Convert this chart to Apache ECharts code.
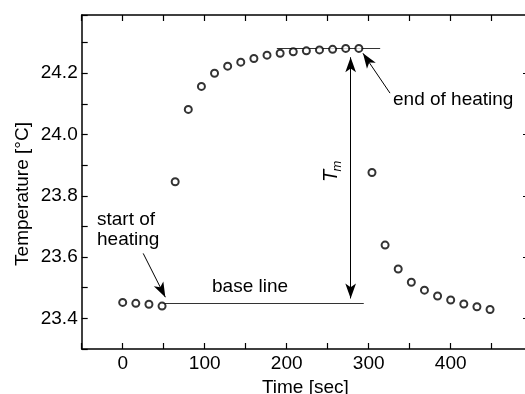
<!DOCTYPE html>
<html>
<head>
<meta charset="utf-8">
<script src="https://cdn.jsdelivr.net/npm/echarts@6/dist/echarts.min.js"></script>
<style>
  html, body { margin: 0; padding: 0; background: #fff; }
  #chart { width: 525px; height: 394px; }
</style>
</head>
<body>
<div id="chart"></div>
<script>
// time [sec] and temperature [°C]
const times = [0, 16, 32, 48, 64, 80, 96, 112, 128, 144, 160, 176, 192, 208, 224, 240, 256, 272, 288,
  304, 320, 336, 352, 368, 384, 400, 416, 432, 448];
const temps = [23.452, 23.449, 23.446, 23.440, 23.846, 24.082, 24.157, 24.200, 24.223, 24.236, 24.248,
  24.259, 24.265, 24.270, 24.273, 24.276, 24.278, 24.281, 24.281,
  23.876, 23.639, 23.561, 23.518, 23.492, 23.473, 23.460, 23.447, 23.438, 23.429];
const majorY = [23.4, 23.6, 23.8, 24.0, 24.2];

// annotation lines in data units
const baseLine = [[48, 23.448], [294, 23.448]];
const topLine = [[188, 24.283], [314, 24.283]];
const tmArrow = [[278, 23.465], [278, 24.252]];
const endArrow = [[326, 24.135], [293, 24.265]];
const startArrow = [[25, 23.612], [52, 23.469]];

const FONT = "Liberation Sans";
const chart = echarts.init(document.getElementById("chart"));

const pts = times.map((t, i) => [t, temps[i]]);
const seg = (p, s0, s1, color) => [
  { coord: p[0], symbol: s0, lineStyle: { color: color } },
  { coord: p[1], symbol: s1 },
];
const frameLine = { show: true, onZero: false, lineStyle: { color: "#000", width: 1.5 } };
const frameTick = { inside: true, length: 6, lineStyle: { color: "#000", width: 1.2 } };

chart.setOption({
  animation: false,
  grid: { left: 81.7, width: 447.3, top: 15, bottom: 45, outerBoundsMode: "none", containLabel: false },
  xAxis: [
    {
      type: "value", min: -50, max: 495.5, interval: 50,
      name: "Time [sec]", nameLocation: "middle", nameGap: 26,
      nameTextStyle: { fontFamily: FONT, fontSize: 19, color: "#000" },
      axisLine: frameLine,
      axisTick: frameTick,
      axisLabel: {
        fontFamily: FONT, fontSize: 19, color: "#000", margin: 5,
        formatter: (v) => (v >= 0 && v % 100 === 0 ? String(v) : ""),
      },
      splitLine: { show: false },
    },
    {
      type: "value", position: "top", min: -50, max: 495.5, interval: 50,
      axisLine: frameLine,
      axisTick: frameTick,
      axisLabel: { show: false },
      splitLine: { show: false },
    },
  ],
  yAxis: [
    {
      type: "value", min: 23.3, max: 24.39, interval: 0.1,
      axisLine: frameLine,
      axisTick: frameTick,
      axisLabel: {
        fontFamily: FONT, fontSize: 19, color: "#000", margin: 4,
        formatter: (v) => {
          const k = Math.round(v * 10);
          return k % 2 === 0 && k <= 242 ? (k / 10).toFixed(1) : "";
        },
      },
      splitLine: { show: false },
    },
    {
      type: "value", position: "right", min: 23.3, max: 24.39, interval: 0.1,
      axisLine: frameLine,
      axisTick: Object.assign({}, frameTick, { customValues: majorY }),
      axisLabel: { show: false },
      splitLine: { show: false },
    },
  ],
  series: [
    {
      type: "scatter",
      data: pts,
      symbol: "emptyCircle",
      symbolSize: 7,
      itemStyle: { color: "#000", borderColor: "#000", borderWidth: 1 },
      silent: true,
      z: 5,
      markLine: {
        silent: true,
        animation: false,
        symbolSize: [8, 15],
        label: { show: false },
        lineStyle: { type: "solid", width: 1, color: "#000" },
        emphasis: { disabled: true },
        data: [
          seg(baseLine, "none", "none", "#333"),
          seg(topLine, "none", "none", "#333"),
          seg(tmArrow, "arrow", "arrow", "#000"),
          seg(endArrow, "none", "arrow", "#000"),
          seg(startArrow, "none", "arrow", "#000"),
        ],
      },
    },
  ],
  graphic: [
    {
      type: "text", x: 23, y: 194, rotation: Math.PI / 2,
      style: { text: "Temperature [°C]", font: `19px "${FONT}"`, fill: "#000", align: "center", verticalAlign: "middle" },
    },
    {
      type: "text", x: 97, y: 219.5,
      style: { text: "start of", font: `19px "${FONT}"`, fill: "#000", align: "left", verticalAlign: "middle" },
    },
    {
      type: "text", x: 97, y: 240,
      style: { text: "heating", font: `19px "${FONT}"`, fill: "#000", align: "left", verticalAlign: "middle" },
    },
    {
      type: "text", x: 212, y: 286.5,
      style: { text: "base line", font: `19px "${FONT}"`, fill: "#000", align: "left", verticalAlign: "middle" },
    },
    {
      type: "text", x: 393, y: 99.5,
      style: { text: "end of heating", font: `19px "${FONT}"`, fill: "#000", align: "left", verticalAlign: "middle" },
    },
    {
      type: "group", x: 331, y: 176, rotation: Math.PI / 2,
      children: [
        {
          type: "text", x: 0, y: 0,
          style: { text: "T", font: `italic 20px "${FONT}"`, fill: "#000", align: "center", verticalAlign: "middle" },
        },
        {
          type: "text", x: 10, y: 6,
          style: { text: "m", font: `italic 13px "${FONT}"`, fill: "#000", align: "center", verticalAlign: "middle" },
        },
      ],
    },
  ],
});
</script>
</body>
</html>
